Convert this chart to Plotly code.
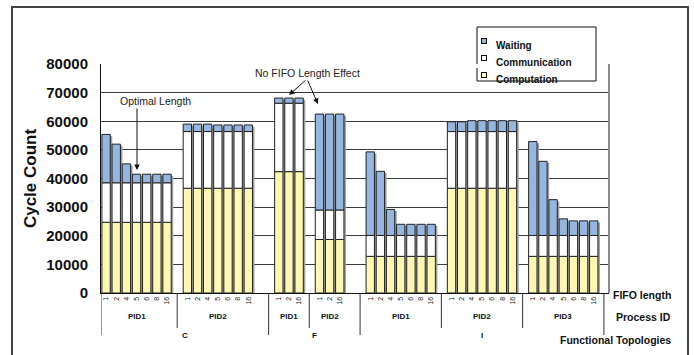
import plotly.graph_objects as go

# ---------------- data ----------------
group_topology = ["C", "C", "F", "F", "I", "I", "I"]
group_process = ["PID1", "PID2", "PID1", "PID2", "PID1", "PID2", "PID3"]
fifo_length = [
    ["1", "2", "4", "5", "6", "8", "16"],
    ["1", "2", "4", "5", "6", "8", "16"],
    ["1", "2", "16"],
    ["1", "2", "16"],
    ["1", "2", "4", "5", "6", "8", "16"],
    ["1", "2", "4", "5", "6", "8", "16"],
    ["1", "2", "4", "5", "6", "8", "16"],
]
computation = [
    [24700, 24700, 24700, 24700, 24700, 24700, 24700],
    [36600, 36600, 36600, 36600, 36600, 36600, 36600],
    [42400, 42400, 42400],
    [18700, 18700, 18700],
    [12800, 12800, 12800, 12800, 12800, 12800, 12800],
    [36600, 36600, 36600, 36600, 36600, 36600, 36600],
    [12800, 12800, 12800, 12800, 12800, 12800, 12800],
]
communication = [
    [13800, 13800, 13800, 13800, 13800, 13800, 13800],
    [19800, 19800, 19800, 19800, 19800, 19800, 19800],
    [23900, 23900, 23900],
    [10300, 10300, 10300],
    [7300, 7300, 7300, 7300, 7300, 7300, 7300],
    [19800, 19800, 19800, 19800, 19800, 19800, 19800],
    [7300, 7300, 7300, 7300, 7300, 7300, 7300],
]
waiting = [
    [16900, 13500, 6600, 3000, 3000, 3000, 3000],
    [2600, 2600, 2600, 2300, 2300, 2300, 2300],
    [1800, 1800, 1800],
    [33500, 33500, 33500],
    [29200, 22400, 9100, 3900, 3900, 3900, 3900],
    [3400, 3400, 3800, 3800, 3800, 3800, 3800],
    [32800, 25900, 12500, 5800, 5100, 5100, 5100],
]
series_names = ["Waiting", "Communication", "Computation"]

FONT = "Liberation Sans, Arial, sans-serif"
C_WAIT = "#95B6DF"
C_COMM = "#FFFFFF"
C_COMP = "#FFF8B2"
series_colors = [C_WAIT, C_COMM, C_COMP]
BAR_W = 0.82

# ---------- category layout (slots, with blank gap slots) ----------
x_pos, tick_text = [], []
comp_f, comm_f, wait_f = [], [], []
pid_labels = []       # (center, text)
dividers = [(0.0, True)]  # (x, long)
topo_bounds = [0.0]
slot = 0
for g in range(len(group_process)):
    if g > 0 and group_topology[g] != group_topology[g - 1]:
        slot += 1
    start = slot
    for i, lab in enumerate(fifo_length[g]):
        x_pos.append(slot + 0.5)
        tick_text.append(lab)
        comp_f.append(computation[g][i])
        comm_f.append(communication[g][i])
        wait_f.append(waiting[g][i])
        slot += 1
    end = slot
    pid_labels.append(((start + end) / 2, group_process[g]))
    last = g == len(group_process) - 1
    topo_change = (not last) and group_topology[g + 1] != group_topology[g]
    if last:
        dividers.append((end + 0.5, True))
        topo_bounds.append(end + 0.5)
    elif topo_change:
        dividers.append((end + 1.5, True))
        topo_bounds.append(end + 1.5)
    else:
        dividers.append((end + 0.5, False))
    slot += 1
n_slots = slot

topo_names = []
for t in group_topology:
    if t not in topo_names:
        topo_names.append(t)

base_comm = comp_f
base_wait = [a + b for a, b in zip(comp_f, comm_f)]
totals = [a + b + c for a, b, c in zip(comp_f, comm_f, wait_f)]

fig = go.Figure()

# shadow behind bars
fig.add_trace(go.Bar(
    x=x_pos, y=[t - 600 for t in totals], width=BAR_W, offset=-BAR_W / 2 + 0.2,
    marker=dict(color="#A0A0A0", line=dict(width=0)), showlegend=False, hoverinfo="skip"))

fig.add_trace(go.Bar(
    name="Computation", x=x_pos, y=comp_f, width=BAR_W, showlegend=False,
    marker=dict(color=C_COMP, line=dict(color="#222222", width=1))))
fig.add_trace(go.Bar(
    name="Communication", x=x_pos, y=comm_f, base=base_comm, width=BAR_W, showlegend=False,
    marker=dict(color=C_COMM, line=dict(color="#222222", width=1))))
fig.add_trace(go.Bar(
    name="Waiting", x=x_pos, y=wait_f, base=base_wait, width=BAR_W, showlegend=False,
    marker=dict(color=C_WAIT, line=dict(color="#222222", width=1))))

# ---------- layout geometry ----------
PLOT_L, PLOT_T, W, H = 101, 64, 694, 355
PLOT_W, PLOT_H = 508, 229


def px_x(p):
    return (p - PLOT_L) / PLOT_W


def px_y(p):
    return (PLOT_T + PLOT_H - p) / PLOT_H


shapes = []
for xd, long in dividers:
    shapes.append(dict(type="line", xref="x", yref="paper", x0=xd, x1=xd,
                       y0=0, y1=px_y(335 if long else 328),
                       line=dict(color="#333333", width=1)))
# plot-area right edge (grey)
shapes.append(dict(type="line", xref="paper", yref="paper", x0=1, x1=1, y0=0, y1=1,
                   line=dict(color="#8C8C8C", width=2)))
# outer frame
shapes.append(dict(type="rect", xref="paper", yref="paper",
                   x0=px_x(12), x1=px_x(688), y0=px_y(400), y1=px_y(7),
                   line=dict(color="#444444", width=2), fillcolor="rgba(0,0,0,0)"))
# legend border
shapes.append(dict(type="rect", xref="paper", yref="paper",
                   x0=px_x(477), x1=px_x(596), y0=px_y(81), y1=px_y(27),
                   line=dict(color="#111111", width=1), fillcolor="rgba(0,0,0,0)"))

annotations = []

# mask the top grid line behind the legend
annotations.append(dict(x=px_x(536.5), y=px_y(64), xref="paper", yref="paper",
                        text=" ", showarrow=False, width=116, height=4, bgcolor="white",
                        borderwidth=0, borderpad=0, font=dict(size=4)))
for k, (nm, col) in enumerate(zip(series_names, series_colors)):
    cy = 38 + k * 17
    annotations.append(dict(x=px_x(487), y=px_y(cy), xref="paper", yref="paper",
                            text=" ", showarrow=False, width=4, height=4, bgcolor=col,
                            bordercolor="#111111", borderwidth=1, borderpad=0,
                            font=dict(size=4)))
    annotations.append(dict(x=px_x(494), y=px_y(cy), xref="paper", yref="paper",
                            text="<b>%s</b>" % nm, showarrow=False, xanchor="left",
                            font=dict(size=10, family=FONT, color="#111")))

for cx, txt in pid_labels:
    annotations.append(dict(x=cx, y=px_y(323), xref="x", yref="paper", text="<b>%s</b>" % txt,
                            showarrow=False, font=dict(size=8, family=FONT, color="#111")))
for i, t in enumerate(topo_names):
    annotations.append(dict(x=(topo_bounds[i] + topo_bounds[i + 1]) / 2, y=px_y(342),
                            xref="x", yref="paper", text="<b>%s</b>" % t, showarrow=False,
                            font=dict(size=8, family=FONT, color="#111")))
for txt, yy in [("FIFO length", 303), ("Process ID", 325), ("Functional Topologies", 348)]:
    annotations.append(dict(x=px_x(673), y=px_y(yy), xref="paper", yref="paper",
                            text="<b>%s</b>" % txt, showarrow=False, xanchor="right",
                            font=dict(size=10.5, family=FONT, color="#111")))

ypp = 80000 / PLOT_H  # value per pixel


def val_y(p):
    return (PLOT_T + PLOT_H - p) * ypp


def slot_x(p):
    return (p - PLOT_L) / PLOT_W * n_slots


# Optimal length
annotations.append(dict(x=slot_x(137), y=val_y(170), ax=slot_x(137), ay=val_y(107),
                        xref="x", yref="y", axref="x", ayref="y", text="", showarrow=True,
                        arrowhead=2, arrowsize=1.1, arrowwidth=1, arrowcolor="#111"))
annotations.append(dict(x=slot_x(155), y=val_y(101), xref="x", yref="y",
                        text="Optimal Length", showarrow=False,
                        font=dict(size=10.5, family=FONT, color="#222")))
# No FIFO length effect
annotations.append(dict(x=slot_x(307), y=val_y(73), xref="x", yref="y",
                        text="No FIFO Length Effect", showarrow=False,
                        font=dict(size=10.5, family=FONT, color="#222")))
for tx, ty in [(289, 95), (318, 104)]:
    annotations.append(dict(x=slot_x(tx), y=val_y(ty), ax=slot_x(307), ay=val_y(79),
                            xref="x", yref="y", axref="x", ayref="y", text="", showarrow=True,
                            arrowhead=2, arrowsize=1.1, arrowwidth=1, arrowcolor="#111"))

fig.update_layout(
    width=W, height=H,
    margin=dict(l=PLOT_L, r=W - PLOT_L - PLOT_W, t=PLOT_T, b=H - PLOT_T - PLOT_H, autoexpand=False),
    barmode="overlay",
    paper_bgcolor="white", plot_bgcolor="white",
    font=dict(family=FONT, color="#111"),
    showlegend=False,
    xaxis=dict(range=[0, n_slots], tickmode="array", tickvals=x_pos, ticktext=tick_text,
               tickangle=-90, tickfont=dict(size=7, family=FONT, color="#222"),
               showgrid=False, zeroline=False, showline=True, linecolor="#111",
               linewidth=1, ticks=""),
    yaxis=dict(range=[0, 80000], dtick=10000, tickformat="d",
               tickfont=dict(size=15, family=FONT, color="#111", weight="bold"),
               showgrid=True, gridcolor="#3C3C3C", gridwidth=1, zeroline=False,
               showline=True, linecolor="#111", linewidth=1, ticks="",
               ticklabelstandoff=9,
               title=dict(text="<b>Cycle Count</b>", font=dict(size=17, family=FONT, color="#111"),
                          standoff=5)),
    shapes=shapes,
    annotations=annotations,
)

fig.write_html("out.html", config={"displayModeBar": False},
               post_script="document.body.style.margin='0';")
